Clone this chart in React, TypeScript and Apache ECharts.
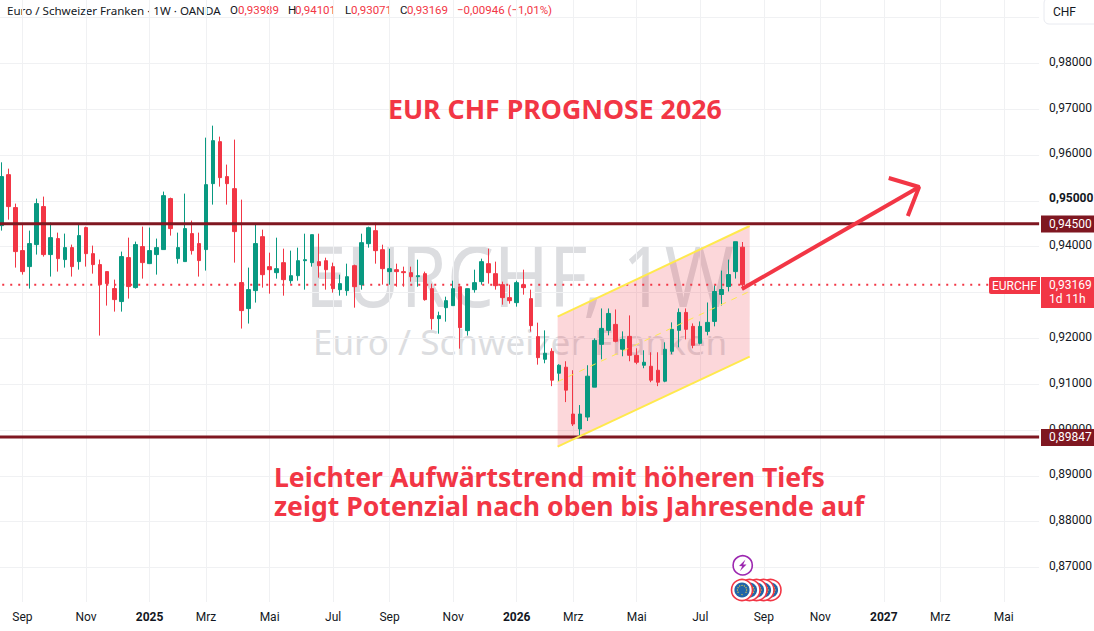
import { useEffect, useRef } from "react";
import * as echarts from "echarts";

const UP = "#089981";
const DOWN = "#f23645";
const LEVEL = "#7f1721";
const YELLOW = "#ffe94d";
const FONT = "Roboto";

// weekly slots on the time axis, slot 0 is empty and sits just off the left edge
const slotCount = 149;
const monthSlots = [4, 13, 22, 30, 39, 48, 56, 65, 74, 82, 91, 100, 109, 117, 126, 134, 143];
const monthLabels = ["Sep", "Nov", "2025", "Mrz", "Mai", "Jul", "Sep", "Nov", "2026", "Mrz", "Mai", "Jul", "Sep", "Nov", "2027", "Mrz", "Mai"];
const yearLabels = ["2025", "2026", "2027"];

const priceTicks = [0.87, 0.88, 0.89, 0.9, 0.91, 0.92, 0.93, 0.94, 0.95, 0.96, 0.97, 0.98, 0.99];
const priceLabels = [0.87, 0.88, 0.89, 0.9, 0.91, 0.92, 0.93, 0.94, 0.95, 0.96, 0.97, 0.98];

// open, close, low, high
const candles = [
  [0.94459, 0.95528, 0.9435, 0.9584],
  [0.95571, 0.94874, 0.9459, 0.95702],
  [0.94852, 0.93892, 0.93543, 0.94939],
  [0.93914, 0.93456, 0.9339, 0.94481],
  [0.93565, 0.94067, 0.93085, 0.9435],
  [0.94045, 0.94939, 0.93827, 0.95048],
  [0.94874, 0.93827, 0.93783, 0.95092],
  [0.93827, 0.94197, 0.93347, 0.94525],
  [0.94176, 0.93739, 0.93456, 0.94306],
  [0.93718, 0.93979, 0.93543, 0.94285],
  [0.93979, 0.93565, 0.93347, 0.94045],
  [0.93674, 0.94241, 0.93499, 0.94481],
  [0.94416, 0.93848, 0.93565, 0.94437],
  [0.93848, 0.93609, 0.93412, 0.94023],
  [0.93609, 0.93172, 0.9206, 0.93718],
  [0.93456, 0.93194, 0.92714, 0.93456],
  [0.93085, 0.92845, 0.92583, 0.93281],
  [0.92802, 0.93783, 0.92583, 0.93892],
  [0.93761, 0.93129, 0.92867, 0.94197],
  [0.93107, 0.94045, 0.93085, 0.9411],
  [0.94001, 0.93652, 0.93303, 0.94437],
  [0.9363, 0.93914, 0.9362, 0.94416],
  [0.93827, 0.93979, 0.9339, 0.94176],
  [0.93936, 0.95113, 0.93936, 0.95201],
  [0.95048, 0.94394, 0.94241, 0.9507],
  [0.93739, 0.93979, 0.9363, 0.94306],
  [0.93674, 0.94394, 0.93674, 0.95157],
  [0.94285, 0.93914, 0.93827, 0.94568],
  [0.94067, 0.93696, 0.93347, 0.94306],
  [0.93936, 0.95353, 0.93478, 0.96378],
  [0.95375, 0.96313, 0.94917, 0.9664],
  [0.96291, 0.95506, 0.9531, 0.964],
  [0.95528, 0.95375, 0.94917, 0.9579],
  [0.95266, 0.94328, 0.93652, 0.96335],
  [0.93216, 0.92605, 0.92213, 0.95026],
  [0.92649, 0.93063, 0.92322, 0.93543],
  [0.93041, 0.94067, 0.9278, 0.94481],
  [0.94218, 0.93389, 0.93106, 0.94371],
  [0.93564, 0.93498, 0.92975, 0.93869],
  [0.93433, 0.9352, 0.93302, 0.94196],
  [0.93651, 0.9328, 0.92931, 0.93956],
  [0.93258, 0.93367, 0.93193, 0.93913],
  [0.93367, 0.93694, 0.93258, 0.93978],
  [0.93694, 0.93716, 0.93062, 0.94283],
  [0.93651, 0.94262, 0.93564, 0.94262],
  [0.93673, 0.93585, 0.93324, 0.94283],
  [0.93694, 0.93498, 0.93062, 0.9376],
  [0.93564, 0.93084, 0.92997, 0.93651],
  [0.93062, 0.93193, 0.92931, 0.93389],
  [0.9304, 0.93345, 0.92931, 0.93629],
  [0.93585, 0.93127, 0.92669, 0.93607],
  [0.93171, 0.94087, 0.93062, 0.94283],
  [0.94065, 0.94414, 0.93978, 0.94436],
  [0.94349, 0.93913, 0.93629, 0.94523],
  [0.93934, 0.9352, 0.93171, 0.94043],
  [0.93455, 0.9352, 0.93171, 0.93956],
  [0.93498, 0.93455, 0.93127, 0.93629],
  [0.93455, 0.93433, 0.93127, 0.93564],
  [0.93433, 0.93345, 0.93236, 0.93564],
  [0.93345, 0.93367, 0.93127, 0.93716],
  [0.93411, 0.92844, 0.92822, 0.93455],
  [0.93084, 0.9243, 0.9219, 0.93193],
  [0.9243, 0.92495, 0.92102, 0.92582],
  [0.92669, 0.92822, 0.92364, 0.92909],
  [0.92713, 0.93084, 0.92713, 0.93258],
  [0.93127, 0.92233, 0.91775, 0.93127],
  [0.92168, 0.93084, 0.92059, 0.93084],
  [0.93062, 0.93215, 0.92997, 0.93498],
  [0.93237, 0.93673, 0.93171, 0.93738],
  [0.93629, 0.93433, 0.93193, 0.93956],
  [0.93411, 0.93149, 0.93062, 0.93673],
  [0.93171, 0.92888, 0.92735, 0.93237],
  [0.92888, 0.92822, 0.92757, 0.93171],
  [0.92779, 0.93215, 0.92691, 0.93258],
  [0.93171, 0.93106, 0.92953, 0.93498],
  [0.92866, 0.92277, 0.92146, 0.93062],
  [0.92037, 0.91579, 0.91426, 0.92342],
  [0.91543, 0.91674, 0.91456, 0.92174],
  [0.91717, 0.91087, 0.90957, 0.91783],
  [0.91239, 0.91413, 0.91065, 0.91435],
  [0.9137, 0.9087, 0.90609, 0.915],
  [0.90348, 0.90131, 0.90087, 0.91304],
  [0.90022, 0.90348, 0.89826, 0.90544],
  [0.90283, 0.91174, 0.90196, 0.91413],
  [0.90935, 0.91956, 0.90935, 0.92],
  [0.91869, 0.92217, 0.91543, 0.92652],
  [0.92174, 0.92543, 0.92065, 0.92652],
  [0.92304, 0.91935, 0.91913, 0.9263],
  [0.91761, 0.91978, 0.91609, 0.92152],
  [0.92043, 0.9163, 0.915, 0.925],
  [0.9163, 0.91478, 0.91435, 0.91783],
  [0.91413, 0.91478, 0.91348, 0.91739],
  [0.91391, 0.91087, 0.91043, 0.91696],
  [0.91304, 0.91043, 0.90957, 0.91696],
  [0.91065, 0.91761, 0.91043, 0.91913],
  [0.91717, 0.92196, 0.91652, 0.92348],
  [0.92174, 0.92565, 0.91804, 0.92652],
  [0.92565, 0.92196, 0.91978, 0.92652],
  [0.92261, 0.91848, 0.91783, 0.92326],
  [0.91891, 0.92261, 0.91869, 0.92369],
  [0.92152, 0.92348, 0.92065, 0.92782],
  [0.92369, 0.93022, 0.92261, 0.93152],
  [0.92956, 0.93065, 0.92717, 0.93478],
  [0.9313, 0.93391, 0.93022, 0.93717],
  [0.93456, 0.94108, 0.93304, 0.94108],
  [0.93989, 0.93169, 0.93071, 0.94101],
];

const resistance = 0.945;
const support = 0.89847;
const lastClose = 0.93169;

const channelX = [79.8, 107];
const channelUpper = [0.92472, 0.94451];
const channelMiddle = [0.91054, 0.93025];
const channelLower = [0.89636, 0.91599];

const arrowShaft = [[105.9, 0.93076], [131, 0.95301]];
const arrowHead = [[126.7, 0.95498], [131, 0.95301], [129.4, 0.94669]];

const formatPrice = (v: number) => v.toFixed(5).replace(".", ",");

function label(text: string, x: number, y: number, font: string, fill: string, align = "left") {
  return { type: "text", x, y, silent: true, style: { text, font, fill, align, verticalAlign: "middle" } };
}

function priceTag(y: number, h: number, fill: string) {
  return { type: "rect", x: 1041, y, z: 20, silent: true, shape: { width: 53, height: h }, style: { fill } };
}

function euFlag(cx: number, cy: number) {
  const stars = [];
  for (let i = 0; i < 12; i++) {
    const a = (i / 12) * Math.PI * 2;
    stars.push({ type: "circle", z: 21, shape: { cx: cx + Math.cos(a) * 4.6, cy: cy + Math.sin(a) * 4.6, r: 0.6 }, style: { fill: "#f5d33a" } });
  }
  return [
    { type: "circle", z: 21, shape: { cx, cy, r: 10.5 }, style: { fill: "#fff", stroke: DOWN, lineWidth: 1.6 } },
    { type: "circle", z: 21, shape: { cx, cy, r: 7.6 }, style: { fill: "#2265a8" } },
    ...stars,
  ];
}

function buildOption() {
  const lineSeries = (data: number[][], color: string, width: number, z: number, type: any = "solid") => ({
    type: "line",
    xAxisIndex: 1,
    data,
    z,
    silent: true,
    symbol: "none",
    clip: false,
    lineStyle: { color, width, type, cap: "butt" },
  });

  const headerFont = `11.5px ${FONT}`;

  return {
    animation: false,
    backgroundColor: "#ffffff",
    grid: { left: -5.76, top: 0, width: 1044.88, height: 602, outerBoundsMode: "none" },
    xAxis: [
      {
        type: "category",
        boundaryGap: false,
        data: Array.from({ length: slotCount }, (_, i) => String(i)),
        axisLine: { show: false },
        axisTick: { show: false },
        splitLine: {
          show: true,
          interval: (i: number) => monthSlots.includes(i),
          lineStyle: { color: "#f0f1f3", width: 1 },
        },
        axisLabel: {
          interval: (i: number) => monthSlots.includes(i),
          hideOverlap: false,
          margin: 9,
          color: "#131722",
          fontFamily: FONT,
          fontSize: 12,
          formatter: (_: string, i: number) => {
            const text = monthLabels[monthSlots.indexOf(i)] ?? "";
            return yearLabels.includes(text) ? `{y|${text}}` : text;
          },
          rich: { y: { fontFamily: FONT, fontSize: 12, fontWeight: "bold", color: "#131722" } },
        },
      },
      { type: "value", min: 0, max: slotCount - 1, show: false },
    ],
    yAxis: {
      type: "value",
      position: "right",
      min: 0.86248,
      max: 0.99381,
      axisLine: { show: false },
      axisTick: { show: false, customValues: priceTicks },
      splitLine: { show: true, lineStyle: { color: "#f0f1f3", width: 1 } },
      axisLabel: {
        customValues: priceLabels,
        margin: 10,
        color: "#131722",
        fontFamily: FONT,
        fontSize: 12,
        padding: [0, 0, 3, 0],
        formatter: (v: number) => (Math.abs(v - 0.95) < 1e-6 ? `{b|${formatPrice(v)}}` : formatPrice(v)),
        rich: { b: { fontFamily: FONT, fontSize: 12, fontWeight: "bold", color: "#131722", padding: [0, 0, 3, 0] } },
      },
    },
    series: [
      {
        type: "custom",
        xAxisIndex: 1,
        z: 1,
        silent: true,
        clip: false,
        data: [[channelX[0], channelLower[0]]],
        renderItem: (_: any, api: any) => ({
          type: "polygon",
          shape: {
            points: [
              api.coord([channelX[0], channelUpper[0]]),
              api.coord([channelX[1], channelUpper[1]]),
              api.coord([channelX[1], channelLower[1]]),
              api.coord([channelX[0], channelLower[0]]),
            ],
          },
          style: { fill: "rgba(242,54,69,0.2)" },
        }),
      },
      lineSeries([[0, lastClose], [140.9, lastClose]], DOWN, 2, 2, [2, 6]),
      {
        type: "candlestick",
        z: 3,
        silent: true,
        barWidth: 4,
        data: candles.map((c, i) => [i + 1, ...c]),
        encode: { x: 0, y: [1, 2, 3, 4] },
        itemStyle: { color: UP, color0: DOWN, borderColor: UP, borderColor0: DOWN, borderWidth: 1 },
      },
      lineSeries([[0, resistance], [slotCount - 1, resistance]], LEVEL, 3, 4),
      lineSeries([[0, support], [slotCount - 1, support]], LEVEL, 3, 4),
      lineSeries([[channelX[0], channelUpper[0]], [channelX[1], channelUpper[1]]], YELLOW, 2, 5),
      lineSeries([[channelX[0], channelLower[0]], [channelX[1], channelLower[1]]], YELLOW, 2, 5),
      lineSeries([[channelX[0], channelMiddle[0]], [channelX[1], channelMiddle[1]]], YELLOW, 1, 5, [6, 6]),
      lineSeries(arrowShaft, DOWN, 4, 6),
      lineSeries(arrowHead, DOWN, 4, 6),
    ],
    graphic: [
      { ...label("EURCHF, 1W", 305, 274, `84px "Noto Sans"`, "#dcdde0"), scaleX: 0.885 },
      label("Euro / Schweizer Franken", 313, 341, `35px "Noto Sans"`, "#dcdde0"),

      { ...label("EUR CHF PROGNOSE 2026", 388, 108, `bold 26.7px "Noto Sans"`, DOWN), z: 10 },
      { ...label("Leichter Aufwärtstrend mit höheren Tiefs", 274, 477, `bold 26.6px "Noto Sans"`, DOWN), z: 10 },
      { ...label("zeigt Potenzial nach oben bis Jahresende auf", 274, 506, `bold 26.6px "Noto Sans"`, DOWN), z: 10 },

      label("Euro / Schweizer Franken · 1W · OANDA", 7, 10, `11.6px "Noto Sans"`, "#131722"),
      label("O", 230, 10, headerFont, "#131722"),
      label("0,93989", 238, 10, headerFont, DOWN),
      label("H", 288, 10, headerFont, "#131722"),
      label("0,94101", 295, 10, headerFont, DOWN),
      label("L", 345, 10, headerFont, "#131722"),
      label("0,93071", 351, 10, headerFont, DOWN),
      label("C", 400, 10, headerFont, "#131722"),
      label("0,93169", 407, 10, headerFont, DOWN),
      label("−0,00946 (−1,01%)", 457, 10, headerFont, DOWN),

      { type: "rect", x: 1044, y: -2, z: 20, silent: true, shape: { width: 60, height: 26, r: 5 }, style: { fill: "#fff", stroke: "#e8eaf0", lineWidth: 1 } },
      { ...label("CHF", 1053, 12, `12px ${FONT}`, "#131722"), z: 21 },

      priceTag(215.5, 17, LEVEL),
      { ...label("0,94500", 1049, 223.5, `12px ${FONT}`, "#ffffff"), z: 21 },
      priceTag(429, 17, LEVEL),
      { ...label("0,89847", 1049, 437, `12px ${FONT}`, "#ffffff"), z: 21 },
      priceTag(277, 31, DOWN),
      { ...label("0,93169", 1049, 284.5, `12px ${FONT}`, "#ffffff"), z: 21 },
      { ...label("1d 11h", 1049, 298.7, `12px ${FONT}`, "#ffffff"), z: 21 },
      { type: "rect", x: 989, y: 277, z: 20, silent: true, shape: { width: 51, height: 17, r: [2, 0, 0, 2] }, style: { fill: DOWN } },
      { ...label("EURCHF", 1014.5, 285.5, `12px ${FONT}`, "#ffffff", "center"), z: 21 },

      { type: "circle", z: 21, shape: { cx: 742.7, cy: 565.3, r: 9.6 }, style: { fill: "#fff", stroke: "#9c27b0", lineWidth: 1.6 } },
      { type: "polygon", z: 22, shape: { points: [[745.5, 559.5], [739, 566], [742.2, 566.3], [740, 571], [746.5, 564.6], [743.2, 564.4]] }, style: { fill: "#9c27b0" } },
      ...euFlag(770.5, 590),
      ...euFlag(763.5, 590),
      ...euFlag(756.5, 590),
      ...euFlag(749.5, 590),
      ...euFlag(742, 590),
    ],
  };
}

export default function App() {
  const chartRef = useRef<HTMLDivElement>(null);

  useEffect(() => {
    if (!chartRef.current) return;
    const chart = echarts.init(chartRef.current, undefined, { renderer: "svg" });
    chart.setOption(buildOption() as any);
    return () => chart.dispose();
  }, []);

  return <div ref={chartRef} style={{ position: "fixed", left: 0, top: 0, width: 1094, height: 631 }} />;
}
